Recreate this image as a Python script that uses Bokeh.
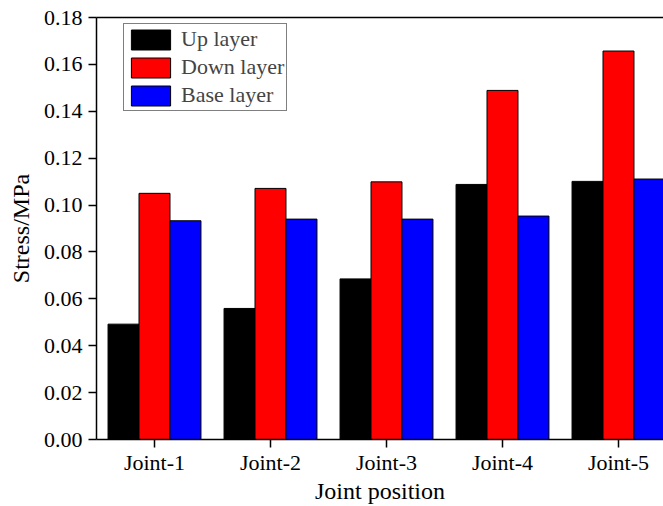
from bokeh.plotting import figure
from bokeh.models import Range1d, FixedTicker, NumeralTickFormatter, LinearAxis, Legend
from bokeh.embed import file_html
from bokeh.resources import INLINE

categories = ["Joint-1", "Joint-2", "Joint-3", "Joint-4", "Joint-5"]
up_layer = [0.0492, 0.0559, 0.0685, 0.1088, 0.1101]
down_layer = [0.1050, 0.1071, 0.1099, 0.1489, 0.1657]
base_layer = [0.0933, 0.0940, 0.0940, 0.0953, 0.1111]
y_ticks = [0.00, 0.02, 0.04, 0.06, 0.08, 0.10, 0.12, 0.14, 0.16, 0.18]

FONT = "Liberation Serif"
xs = list(range(1, len(categories) + 1))
bw = 0.267

p = figure(width=663, height=506, output_backend="svg", toolbar_location=None,
           x_range=Range1d(0.5, 5.388), y_range=Range1d(0, 0.18),
           min_border_left=96, min_border_right=0, min_border_top=17, min_border_bottom=66)
p.outline_line_color = None
p.xgrid.visible = False
p.ygrid.visible = False

series = [(up_layer, "black", "Up layer", -bw), (down_layer, "#ff0000", "Down layer", 0.0),
          (base_layer, "#0000ff", "Base layer", bw)]
renderers = []
for vals, col, name, off in series:
    r = p.vbar(x=[x + off for x in xs], top=vals, width=bw, fill_color=col,
               line_color="black", line_width=1)
    renderers.append((name, [r]))

legend = Legend(items=renderers, location=(27, 328))
legend.glyph_width = 49
legend.glyph_height = 25
legend.label_height = 25
legend.spacing = 2
legend.padding = 2
legend.margin = 0
legend.label_standoff = 6
legend.label_text_font = FONT
legend.label_text_font_size = "22px"
legend.border_line_color = "black"
legend.border_line_width = 1
legend.background_fill_alpha = 1
p.add_layout(legend, "center")

for ax in (p.xaxis[0], p.yaxis[0]):
    ax.axis_line_width = 1.5
    ax.axis_line_color = "black"
    ax.major_tick_line_width = 1.5
    ax.major_tick_in = 0
    ax.major_tick_out = 8
    ax.minor_tick_line_color = None
    ax.major_label_text_font = FONT
    ax.major_label_text_font_size = "22px"
    ax.major_label_text_color = "black"
    ax.axis_label_text_font = FONT
    ax.axis_label_text_font_size = "24px"
    ax.axis_label_text_font_style = "normal"
    ax.axis_label_text_color = "black"

p.xaxis.ticker = FixedTicker(ticks=xs)
p.xaxis.major_label_overrides = {x: c for x, c in zip(xs, categories)}
p.xaxis.axis_label = "Joint position"
p.xaxis.major_label_standoff = 2
p.xaxis.axis_label_standoff = 0

p.yaxis.ticker = FixedTicker(ticks=y_ticks)
p.yaxis.formatter = NumeralTickFormatter(format="0.00")
p.yaxis.axis_label = "Stress/MPa"
p.yaxis.major_label_standoff = 6
p.yaxis.axis_label_standoff = 7

top = LinearAxis(axis_line_width=1.5, axis_line_color="black", major_tick_line_color=None,
                 minor_tick_line_color=None, major_label_text_font_size="0px",
                 major_label_text_color=None)
top.ticker = FixedTicker(ticks=[])
p.add_layout(top, "above")

open("out.html", "w").write(file_html(p, INLINE))
